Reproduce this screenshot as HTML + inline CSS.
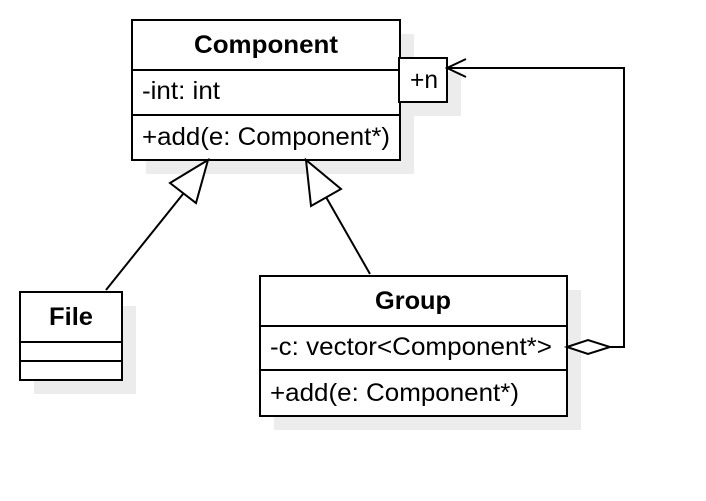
<!DOCTYPE html>
<html><head><style>body{margin:0;background:#fff}</style></head><body>
<svg width="706" height="496" xmlns="http://www.w3.org/2000/svg" font-family="Liberation Sans, sans-serif" font-size="25">
<g fill="#ececec">
<rect x="146" y="34" width="268" height="140"/>
<rect x="413" y="72" width="48" height="44"/>
<rect x="34" y="306" width="102" height="88"/>
<rect x="274" y="290" width="307" height="140"/>
</g>
<g fill="#fff" stroke="#000" stroke-width="2">
<rect x="132" y="20" width="268" height="140"/>
<line x1="132" y1="70" x2="400" y2="70"/>
<line x1="132" y1="115" x2="400" y2="115"/>
<rect x="399" y="58" width="48" height="44"/>
<rect x="20" y="292" width="102" height="88"/>
<line x1="20" y1="342" x2="122" y2="342"/>
<line x1="20" y1="361" x2="122" y2="361"/>
<rect x="260" y="276" width="307" height="140"/>
<line x1="260" y1="326" x2="567" y2="326"/>
<line x1="260" y1="370" x2="567" y2="370"/>
<line x1="106" y1="290" x2="183" y2="194"/>
<polygon points="208,160 170,183 196,203"/>
<line x1="370" y1="274" x2="326" y2="197"/>
<polygon points="306,160 311,206 341,189"/>
<polyline fill="none" points="610,347 624,347 624,68 447,68"/>
<polyline fill="none" points="466,59 447,68 466,77"/>
<polygon points="567,347 588,340 610,347 588,354"/>
</g>
<g fill="#000">
<text x="194" y="53" font-weight="bold" textLength="144" lengthAdjust="spacingAndGlyphs">Component</text>
<text x="142" y="99" textLength="78" lengthAdjust="spacingAndGlyphs">-int: int</text>
<text x="142" y="145" textLength="248" lengthAdjust="spacingAndGlyphs">+add(e: Component*)</text>
<text x="410" y="88" textLength="28" lengthAdjust="spacingAndGlyphs">+n</text>
<text x="49" y="325" font-weight="bold" textLength="44" lengthAdjust="spacingAndGlyphs">File</text>
<text x="375" y="309" font-weight="bold" textLength="76" lengthAdjust="spacingAndGlyphs">Group</text>
<text x="270" y="355" textLength="282" lengthAdjust="spacingAndGlyphs">-c: vector&lt;Component*&gt;</text>
<text x="270" y="401" textLength="249" lengthAdjust="spacingAndGlyphs">+add(e: Component*)</text>
</g>
</svg>
</body></html>
